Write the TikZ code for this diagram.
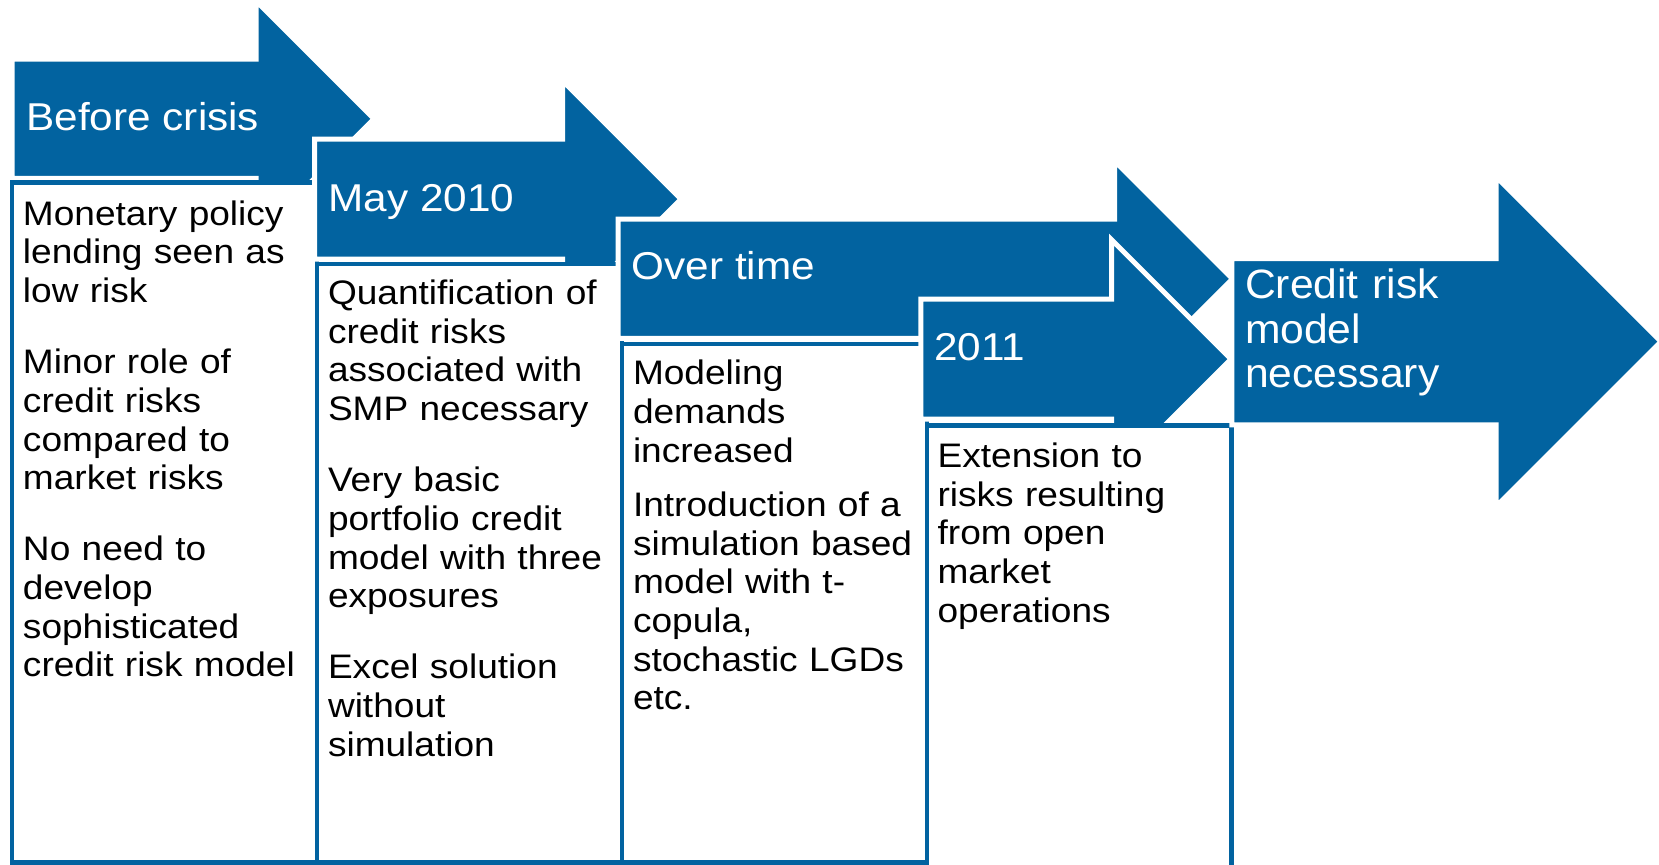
\documentclass[tikz,border=0pt]{standalone}
\usepackage{fontspec}
\setmainfont{Liberation Sans}[FakeStretch=1.09]
\newfontfamily\finalheadfamily{Liberation Sans}[FakeStretch=1.04]

\definecolor{ecbblue}{RGB}{2,99,160}

% font settings (1 unit = 0.5pt)
\newcommand{\cbodyfont}{\fontsize{17pt}{19.35pt}\selectfont}
\newcommand{\cheadfont}{\fontsize{19.4pt}{22pt}\selectfont}
\newcommand{\cfinalfont}{\finalheadfamily\fontsize{20.5pt}{22.15pt}\selectfont}

\tikzset{
  arrowshape/.style={fill=ecbblue, draw=white, line width=2.5pt, line join=miter},
  textbox/.style={draw=ecbblue, fill=white, line width=2.25pt},
  headtext/.style={anchor=base west, inner sep=0pt, outer sep=0pt, text=white, font=\cheadfont},
  finaltext/.style={anchor=base west, inner sep=0pt, outer sep=0pt, text=white,
    text width=200pt, align=left, font=\cfinalfont},
  bodytext/.style={anchor=base west, inner sep=0pt, outer sep=0pt, text=black,
    text width=160pt, align=left, font=\cbodyfont},
}

% block arrow: left x, centre y, body half-height, head x, tip x
\newcommand{\blockarrow}[5]{%
  \path[arrowshape] (#1,#2-#3) -- (#4,#2-#3) -- (#4,#2-#5+#4) -- (#5,#2)
    -- (#4,#2+#5-#4) -- (#4,#2+#3) -- (#1,#2+#3) -- cycle;}

\begin{document}
\begin{tikzpicture}[x=0.5pt, y=-0.5pt]
\useasboundingbox (0,0) rectangle (1659,864);
\clip (0,0) rectangle (1659,864);

% stage 1
\blockarrow{12.2}{118.8}{59.6}{256}{374}
\node[headtext] (h1) at (26.5,130.5) {Before crisis};
\path[textbox] (11.8,182.5) rectangle (316.8,862.5);
\node[bodytext] (t1) at (23,225.2) {Monetary policy\\ lending seen as\\ low risk\\[16.15pt]
Minor role of\\ credit risks\\ compared to\\ market risks\\[16.15pt]
No need to\\ develop\\ sophisticated\\ credit risk model};

% stage 2
\blockarrow{314.5}{199.2}{60}{562.5}{681}
\node[headtext] (h2) at (328.5,211) {May 2010};
\path[textbox] (316.8,264) rectangle (621.8,862.5);
\node[bodytext] (t2) at (328,304.5) {Quantification of\\ credit risks\\ associated with\\ SMP necessary\\[16.15pt]
Very basic\\ portfolio credit\\ model with three\\ exposures\\[16.15pt]
Excel solution\\ without\\ simulation};

% stage 3
\blockarrow{618}{278.8}{59.6}{1114.5}{1232.5}
\node[headtext] (h3) at (631.8,279) {Over time};
\path[textbox] (621.8,344) rectangle (927,862.5);
\node[bodytext] (t3) at (633,384.9) {Modeling\\ demands\\ increased\\[7.65pt]
Introduction of a\\ simulation based\\ model with t-\\ copula,\\ stochastic LGDs\\ etc.};

% stage 4
\blockarrow{920.8}{359.2}{60}{1111.5}{1231}
\node[headtext] (h4) at (934,360.5) {2011};
\path[textbox] (927,425.5) rectangle (1231.7,900);
\node[bodytext] (t4) at (937.6,467.5) {Extension to\\ risks resulting\\ from open\\ market\\ operations};

% outcome
\blockarrow{1231.8}{341.7}{83.2}{1496.2}{1661}
\node[finaltext] (h5) at (1245,298.7) {Credit risk\\ model\\ necessary};

\end{tikzpicture}
\end{document}
